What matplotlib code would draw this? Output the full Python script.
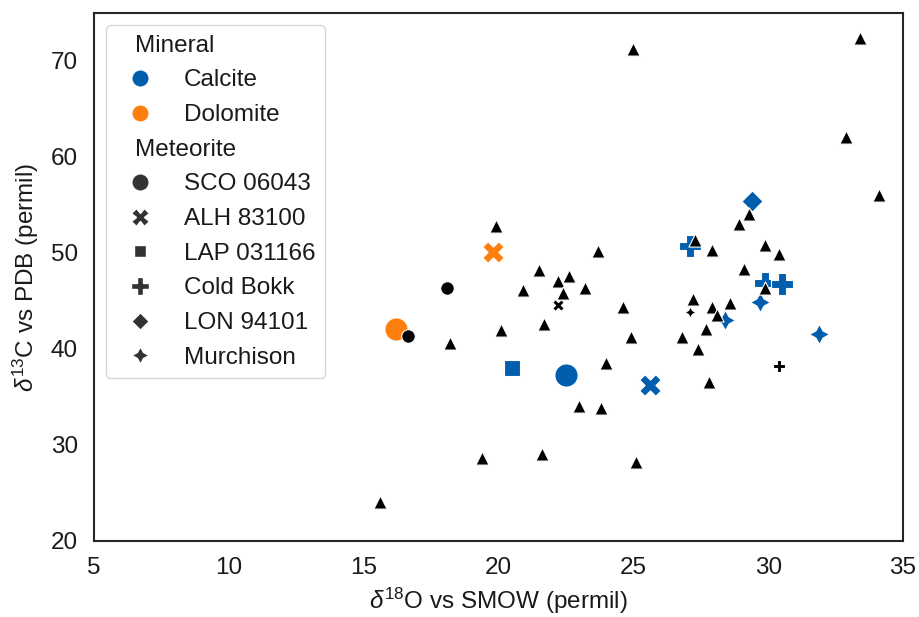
import matplotlib
matplotlib.use("Agg")
import matplotlib.pyplot as plt
from matplotlib.lines import Line2D
import numpy as np

plt.rcParams['font.family'] = ['Liberation Sans', 'DejaVu Sans']
plt.rcParams['mathtext.fontset'] = 'custom'
plt.rcParams['mathtext.rm'] = 'Liberation Sans'
plt.rcParams['mathtext.it'] = 'Liberation Sans:italic'

# ---- data: (d18O, d13C) ----
# Calcite (blue), large markers
calcite_meteorite = ["SCO 06043", "ALH 83100", "LAP 031166", "Cold Bokk", "Cold Bokk",
                     "Cold Bokk", "LON 94101", "Murchison", "Murchison", "Murchison"]
calcite_d18O = [22.5, 25.6, 20.5, 27.1, 29.9, 30.5, 29.4, 29.7, 28.4, 31.9]
calcite_d13C = [37.3, 36.2, 38.0, 50.7, 46.9, 46.8, 55.4, 44.9, 43.0, 41.6]

# Dolomite (orange), large markers
dolomite_meteorite = ["SCO 06043", "ALH 83100"]
dolomite_d18O = [16.2, 19.8]
dolomite_d13C = [42.1, 50.05]

# Unassigned mineral (black), small markers
other_meteorite = ["SCO 06043", "SCO 06043", "ALH 83100", "Cold Bokk", "Murchison"]
other_d18O = [18.1, 16.65, 22.2, 30.4, 27.1]
other_d13C = [46.3, 41.4, 44.6, 38.2, 43.9]

# Literature data (black triangles)
lit_d18O = [25.0, 33.4, 32.9, 34.1, 29.3, 28.9, 19.9, 27.3, 27.9, 29.9,
            30.4, 23.7, 21.5, 29.1, 22.2, 22.6, 23.2, 20.9, 22.4, 29.9,
            24.6, 27.2, 27.9, 28.6, 28.1, 27.7, 21.7, 20.1, 18.2, 24.9,
            26.8, 27.4, 24.0, 27.8, 23.0, 23.8, 19.4, 21.6, 25.1, 15.6]
lit_d13C = [71.2, 72.4, 62.1, 56.0, 54.1, 53.0, 52.8, 51.3, 50.3, 50.8,
            49.9, 50.2, 48.2, 48.3, 47.1, 47.6, 46.4, 46.1, 45.8, 46.4,
            44.4, 45.2, 44.4, 44.8, 43.5, 42.1, 42.6, 42.0, 40.6, 41.2,
            41.2, 40.0, 38.5, 36.6, 34.1, 33.8, 28.6, 29.1, 28.2, 24.1]

minerals = ["Calcite", "Dolomite"]
meteorites = ["SCO 06043", "ALH 83100", "LAP 031166", "Cold Bokk", "LON 94101", "Murchison"]
xticks = [5, 10, 15, 20, 25, 30, 35]
yticks = [20, 30, 40, 50, 60, 70]

# ---- styles ----
BLUE = '#005EAD'
ORANGE = '#FF7F0E'
BLACK = '#000000'
FS = 17.5
markers = {"SCO 06043": "o", "ALH 83100": "X", "LAP 031166": (4, 0, 45),
           "Cold Bokk": "P", "LON 94101": (4, 0, 0), "Murchison": (4, 1, 0)}
big_size = {"SCO 06043": 280, "ALH 83100": 240, "LAP 031166": 250,
            "Cold Bokk": 260, "LON 94101": 230, "Murchison": 210}
small_size = {"SCO 06043": 95, "ALH 83100": 70, "LAP 031166": 70,
              "Cold Bokk": 75, "LON 94101": 70, "Murchison": 65}

fig = plt.figure(figsize=(9.19, 6.17), dpi=100)
ax = fig.add_axes([0.1023, 0.1232, 0.8803, 0.8558])

def draw(names, xs, ys, color, sizes):
    for name in meteorites:
        idx = [i for i, n in enumerate(names) if n == name]
        if not idx:
            continue
        ax.scatter([xs[i] for i in idx], [ys[i] for i in idx], marker=markers[name],
                   s=sizes[name], c=color, edgecolors='white', linewidths=0.8, zorder=2)

draw(calcite_meteorite, calcite_d18O, calcite_d13C, BLUE, big_size)
draw(dolomite_meteorite, dolomite_d18O, dolomite_d13C, ORANGE, big_size)
ax.scatter(lit_d18O, lit_d13C, marker='^', s=90, c=BLACK, edgecolors='white',
           linewidths=0.8, zorder=3)
draw(other_meteorite, other_d18O, other_d13C, BLACK, small_size)

ax.set_xlim(5, 35)
ax.set_ylim(20, 75)
ax.set_xticks(xticks)
ax.set_yticks(yticks)
ax.tick_params(length=0, pad=11.5, labelsize=FS, colors='#1a1a1a')
for sp in ax.spines.values():
    sp.set_color('#262626')
    sp.set_linewidth(1.5)

ax.set_xlabel(r'$\delta^{18}$O vs SMOW (permil)', fontsize=FS, color='#1a1a1a', labelpad=5)
ax.set_ylabel(r'$\delta^{13}$C vs PDB (permil)', fontsize=FS, color='#1a1a1a', labelpad=7)

# ---- legend ----
blank = Line2D([], [], linestyle='', marker='', visible=False)
handles = [blank,
           Line2D([], [], linestyle='', marker='o', markersize=12.5, color=BLUE, markeredgecolor='white'),
           Line2D([], [], linestyle='', marker='o', markersize=12.5, color=ORANGE, markeredgecolor='white'),
           Line2D([], [], linestyle='', marker='', visible=False)]
labels = ["Mineral"] + minerals + ["Meteorite"]
for name in meteorites:
    handles.append(Line2D([], [], linestyle='', marker=markers[name], markersize=12.5,
                          color='#333333', markeredgecolor='white'))
    labels.append(name)
leg = ax.legend(handles, labels, loc='upper left', fontsize=FS, frameon=True,
                labelspacing=0.52, handletextpad=0.8, borderpad=0.4, borderaxespad=0.5,
                fancybox=True, edgecolor='#cccccc', framealpha=0.8)
for t in leg.get_texts():
    t.set_color('#1a1a1a')
for hpack in leg._legend_handle_box.get_children()[0].get_children():
    draw_area, text_area = hpack.get_children()
    if not all(a.get_visible() for a in draw_area.get_children()):
        draw_area.set_width(0)

fig.savefig('out.png', dpi=100)
